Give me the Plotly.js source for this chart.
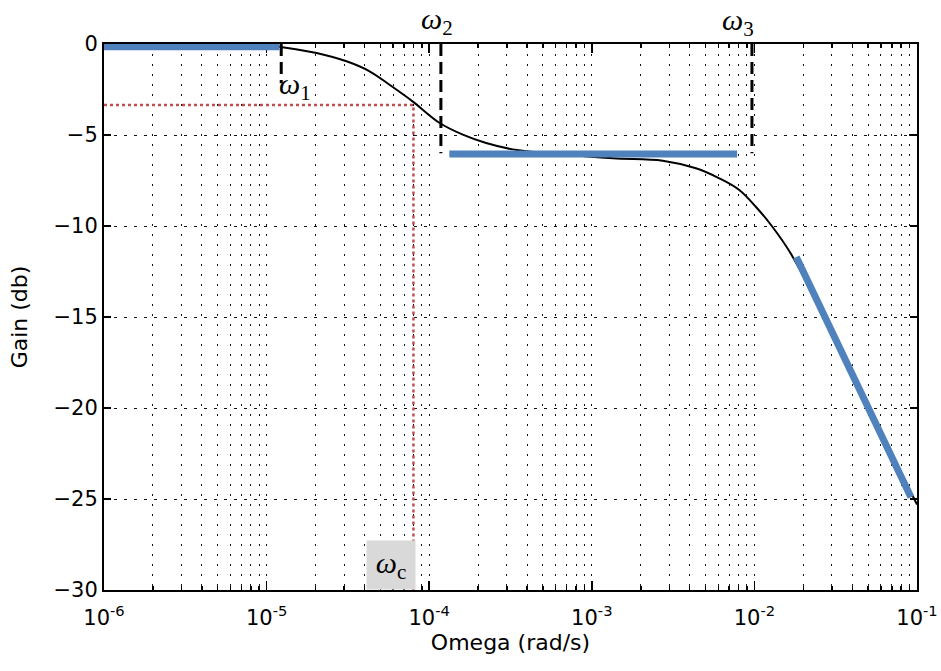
<!DOCTYPE html>
<html><head><meta charset="utf-8">
<script src="https://cdn.plot.ly/plotly-3.0.1.min.js"></script>
<style>html,body{margin:0;padding:0;background:#fff}#chart{width:941px;height:671px}</style>
</head><body><div id="chart"></div>
<script>
// Bode magnitude curve
const omega  = [1e-6, 3.16e-6, 1e-5, 1.2e-5, 2.03e-5, 3.1e-5, 4.3e-5, 5.7e-5, 7.9e-5, 1.16e-4, 1.61e-4, 2.24e-4, 3.27e-4, 6.3e-4, 1.35e-3, 2.73e-3, 4.37e-3, 6.08e-3, 8.07e-3, 1.02e-2, 1.29e-2, 1.67e-2, 2.88e-2, 5.07e-2, 1e-1];
const gainDb = [0, 0, -0.05, -0.15, -0.49, -0.95, -1.5, -2.24, -3.15, -4.34, -4.98, -5.44, -5.79, -6.05, -6.28, -6.41, -6.83, -7.38, -8.02, -8.94, -10.04, -11.5, -15.5, -20.0, -25.3];

// straight-line asymptotes (blue)
const asym1Omega = [1e-6, 1.2e-5];     const asym1Db = [-0.15, -0.15];
const asym2Omega = [1.33e-4, 7.83e-3]; const asym2Db = [-6.04, -6.04];
const asym3Omega = [1.81e-2, 9.18e-2]; const asym3Db = [-11.7, -24.9];

// corner frequencies (dashed markers)
const cornerOmega = [1.23e-5, 1.18e-4, 9.66e-3];
const cornerDb    = [-2.15, -6.0, -6.0];

// crossover point (red dotted)
const omegaC = 8.0e-5;
const gainC = -3.35;

// axis ticks
const xTickVals = [1e-6, 1e-5, 1e-4, 1e-3, 1e-2, 1e-1];
const xTickText = ['10<sup>-6</sup>', '10<sup>-5</sup>', '10<sup>-4</sup>', '10<sup>-3</sup>', '10<sup>-2</sup>', '10<sup>-1</sup>'];
const yTickVals = [0, -5, -10, -15, -20, -25, -30];

const minorVals = [];
for (let e = -6; e < -1; e++) for (let m = 2; m <= 9; m++) minorVals.push(m * Math.pow(10, e));

const traces = [];
// red dotted lines
traces.push({x: [xTickVals[0], omegaC, omegaC], y: [gainC, gainC, yTickVals[6]], mode: 'lines',
  line: {color: '#c0504d', width: 2.5, dash: '3px,3px'}, hoverinfo: 'skip'});
// curve
traces.push({x: omega, y: gainDb, mode: 'lines', line: {color: '#000', width: 2, shape: 'spline'}, hoverinfo: 'skip'});
// dashed corner lines
cornerOmega.forEach((w, i) => traces.push({x: [w, w], y: [0, cornerDb[i]], mode: 'lines',
  line: {color: '#000', width: 3, dash: '12px,6px'}, hoverinfo: 'skip', cliponaxis: false}));
// blue asymptotes
[[asym1Omega, asym1Db], [asym2Omega, asym2Db], [asym3Omega, asym3Db]].forEach(([xs, ys]) =>
  traces.push({x: xs, y: ys, mode: 'lines', line: {color: '#4f81bd', width: 7}, hoverinfo: 'skip', cliponaxis: false}));

const tickFont = {family: 'DejaVu Sans', size: 21, color: '#000'};
const titleFont = {family: 'DejaVu Sans', size: 22, color: '#000'};
const omFont = {family: 'Liberation Serif', size: 30, color: '#000'};
const L = Math.log10;

const layout = {
  width: 941, height: 671,
  margin: {l: 104, r: 24, t: 44, b: 81},
  paper_bgcolor: '#fff', plot_bgcolor: '#fff',
  showlegend: false,
  xaxis: {
    type: 'log', range: [-6, -1], tickmode: 'array', tickvals: xTickVals, ticktext: xTickText,
    ticks: 'inside', ticklen: 9, tickwidth: 1.5, tickcolor: '#000', mirror: 'allticks',
    showline: true, linewidth: 2, linecolor: '#000', layer: 'below traces',
    showgrid: true, gridcolor: '#111', gridwidth: 1, griddash: '2px,8px',
    minor: {tickmode: 'array', tickvals: minorVals, ticks: 'inside', ticklen: 4, tickcolor: '#000',
      showgrid: true, gridcolor: '#111', gridwidth: 1, griddash: '2px,8px'},
    tickfont: tickFont, zeroline: false, ticklabelstandoff: 8,
    title: {text: 'Omega (rad/s)', font: titleFont, standoff: 0}
  },
  yaxis: {
    range: [-30, 0], tickmode: 'array', tickvals: yTickVals,
    ticks: 'inside', ticklen: 7, tickwidth: 1.5, tickcolor: '#000', mirror: 'allticks',
    showline: true, linewidth: 2, linecolor: '#000', layer: 'below traces',
    showgrid: true, gridcolor: '#111', gridwidth: 1, griddash: '3px,7px',
    tickfont: tickFont, zeroline: false,
    title: {text: 'Gain (db)', font: titleFont, standoff: 20}
  },
  annotations: [
    {x: L(1.5e-5), y: -2.3, xref: 'x', yref: 'y', text: '<i>ω</i><sub>1</sub>', showarrow: false, font: omFont},
    {x: L(1.12e-4), y: 1.042, xref: 'x', yref: 'paper', yanchor: 'middle', text: '<i>ω</i><sub>2</sub>', showarrow: false, font: omFont},
    {x: L(7.92e-3), y: 1.040, xref: 'x', yref: 'paper', yanchor: 'middle', text: '<i>ω</i><sub>3</sub>', showarrow: false, font: omFont},
    {x: L(5.8e-5), y: -28.6, xref: 'x', yref: 'y', text: '<i>ω</i><sub>c</sub>', showarrow: false, font: omFont,
      bgcolor: '#d9d9d9', width: 44, height: 44, borderpad: 2}
  ]
};

Plotly.newPlot('chart', traces, layout, {staticPlot: true, displayModeBar: false});
</script></body></html>
